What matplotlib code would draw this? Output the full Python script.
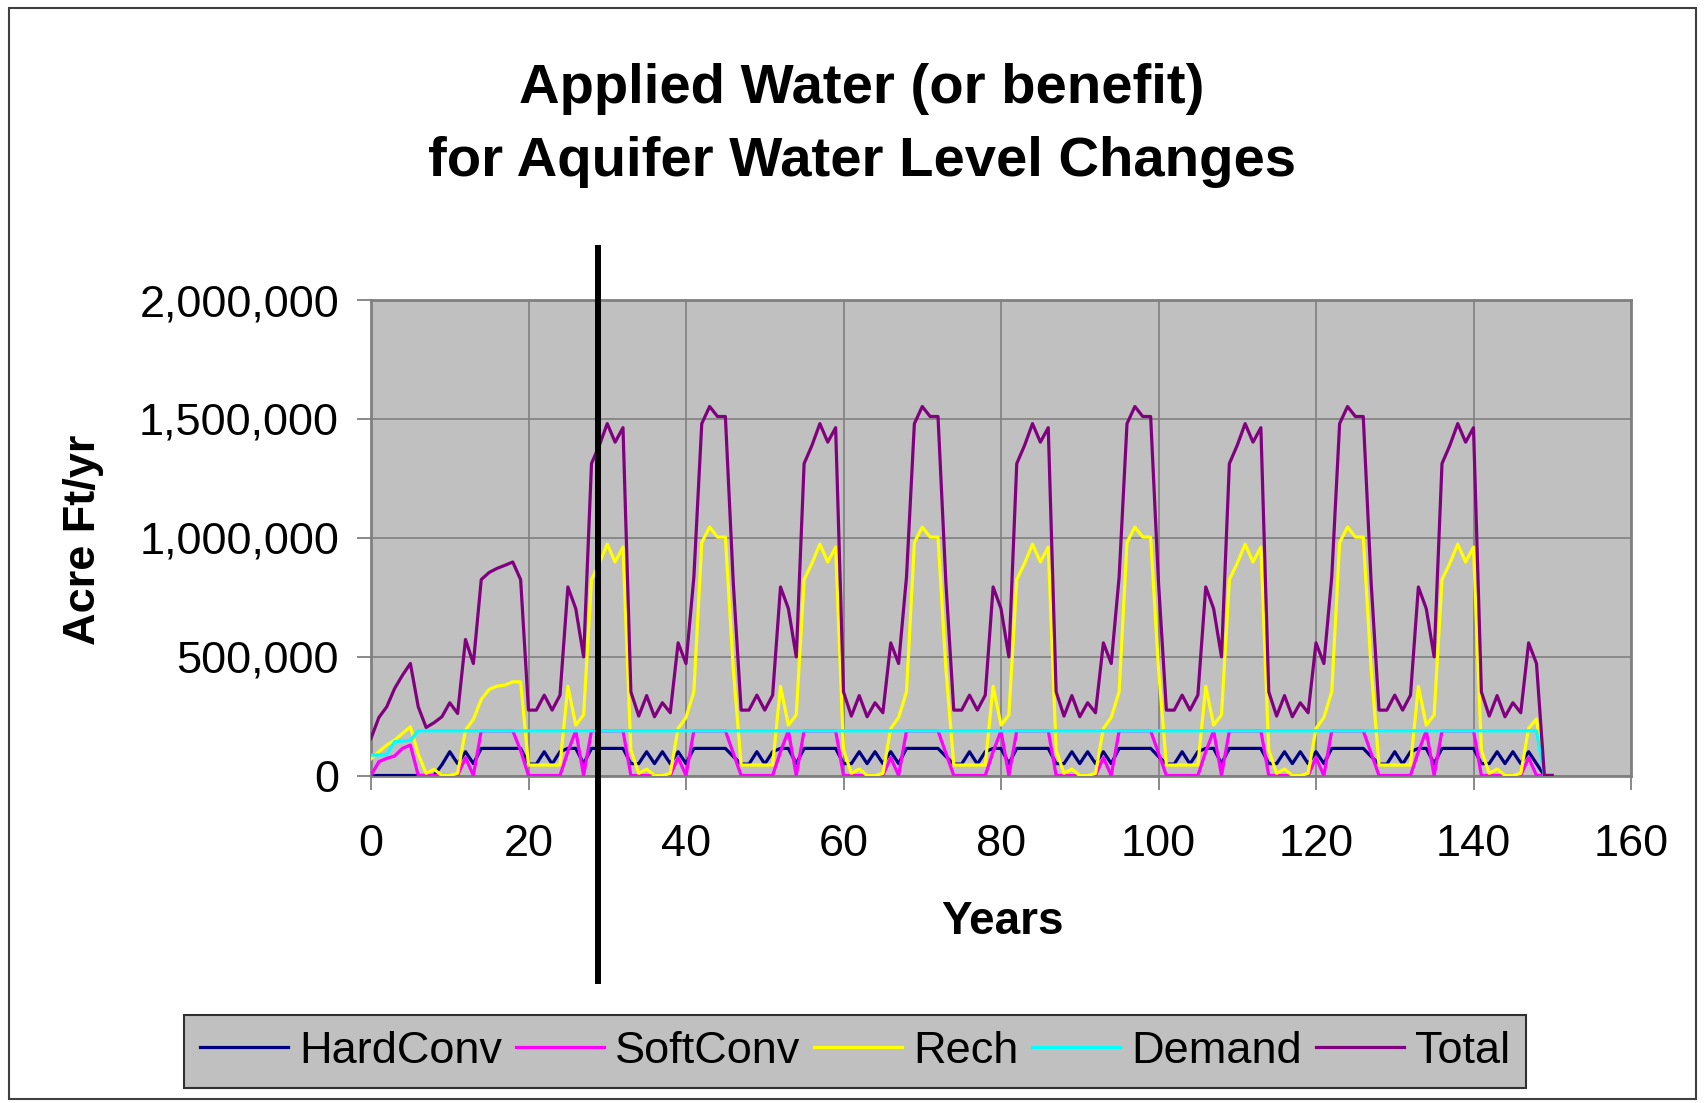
import matplotlib
matplotlib.use("Agg")
import matplotlib.pyplot as plt
from matplotlib.ticker import FuncFormatter
from matplotlib.lines import Line2D
from matplotlib.patches import Rectangle
from matplotlib.transforms import blended_transform_factory

plt.rcParams['font.family'] = ['Liberation Sans', 'DejaVu Sans']

# ---------------- data (thousand acre-ft / yr), years 0..150 ----------------
years = list(range(151))

hardconv_k = [
    0, 0, 0, 0, 0, 0, 0, 0, 0, 45, 100, 50, 100, 50, 114, 114, 114, 114, 114, 114,
    48, 48, 100, 48, 100, 114, 114, 50, 114, 114, 114, 114, 114, 50, 50, 100, 50, 100, 50, 100, 50, 114, 114, 114, 114, 114, 80,
    48, 48, 100, 48, 100, 114, 114, 50, 114, 114, 114, 114, 114, 50, 50, 100, 50, 100, 50, 100, 50, 114, 114, 114, 114, 114, 80,
    48, 48, 100, 48, 100, 114, 114, 50, 114, 114, 114, 114, 114, 50, 50, 100, 50, 100, 50, 100, 50, 114, 114, 114, 114, 114, 80,
    48, 48, 100, 48, 100, 114, 114, 50, 114, 114, 114, 114, 114, 50, 50, 100, 50, 100, 50, 100, 50, 114, 114, 114, 114, 114, 80,
    48, 48, 100, 48, 100, 114, 114, 50, 114, 114, 114, 114, 114, 50, 50, 100, 50, 100, 50, 100, 50,
    0, 0,
]

softconv_k = [
    0, 58, 72, 82, 114, 128, 0, 0, 0, 0, 0, 0, 75, 0, 188, 188, 188, 188, 188, 105,
    0, 0, 0, 0, 0, 100, 188, 0, 188, 188, 188, 188, 188, 0, 0, 0, 0, 0, 0, 75, 0, 188, 188, 188, 188, 188, 94,
    0, 0, 0, 0, 0, 100, 188, 0, 188, 188, 188, 188, 188, 0, 0, 0, 0, 0, 0, 75, 0, 188, 188, 188, 188, 188, 94,
    0, 0, 0, 0, 0, 100, 188, 0, 188, 188, 188, 188, 188, 0, 0, 0, 0, 0, 0, 75, 0, 188, 188, 188, 188, 188, 94,
    0, 0, 0, 0, 0, 100, 188, 0, 188, 188, 188, 188, 188, 0, 0, 0, 0, 0, 0, 75, 0, 188, 188, 188, 188, 188, 94,
    0, 0, 0, 0, 0, 100, 188, 0, 188, 188, 188, 188, 188, 0, 0, 0, 0, 0, 0, 75, 0,
    0, 0,
]

rech_k = [
    70, 100, 128, 149, 177, 205, 90, 9, 26, 0, 0, 9, 191, 236, 320, 362, 376, 380, 394, 394,
    44, 44, 44, 44, 44, 375, 212, 255, 824, 893, 973, 898, 961, 107, 9, 27, 0, 0, 9, 198, 244, 352, 980, 1045, 1003, 1003, 450,
    44, 44, 44, 44, 44, 375, 212, 255, 824, 893, 973, 898, 961, 107, 9, 27, 0, 0, 9, 198, 244, 352, 980, 1045, 1003, 1003, 450,
    44, 44, 44, 44, 44, 375, 212, 255, 824, 893, 973, 898, 961, 107, 9, 27, 0, 0, 9, 198, 244, 352, 980, 1045, 1003, 1003, 450,
    44, 44, 44, 44, 44, 375, 212, 255, 824, 893, 973, 898, 961, 107, 9, 27, 0, 0, 9, 198, 244, 352, 980, 1045, 1003, 1003, 450,
    44, 44, 44, 44, 44, 375, 212, 255, 824, 893, 973, 898, 961, 107, 9, 27, 0, 0, 9, 198, 238,
    0, 0,
]

demand_k = [
    86, 86, 88, 142, 145, 148, 188, 188, 188, 188, 188, 188, 188, 188, 188, 188, 188, 188, 188, 188,
    188, 188, 188, 188, 188, 188, 188, 188, 188, 188, 188, 188, 188, 188, 188, 188, 188, 188, 188, 188, 188, 188, 188, 188, 188, 188, 188,
    188, 188, 188, 188, 188, 188, 188, 188, 188, 188, 188, 188, 188, 188, 188, 188, 188, 188, 188, 188, 188, 188, 188, 188, 188, 188, 188,
    188, 188, 188, 188, 188, 188, 188, 188, 188, 188, 188, 188, 188, 188, 188, 188, 188, 188, 188, 188, 188, 188, 188, 188, 188, 188, 188,
    188, 188, 188, 188, 188, 188, 188, 188, 188, 188, 188, 188, 188, 188, 188, 188, 188, 188, 188, 188, 188, 188, 188, 188, 188, 188, 188,
    188, 188, 188, 188, 188, 188, 188, 188, 188, 188, 188, 188, 188, 188, 188, 188, 188, 188, 188, 188, 188,
    0, 0,
]

total_k = [
    156, 244, 289, 366, 422, 471, 289, 202, 222, 247, 306, 261, 572, 471, 824, 854, 871, 884, 898, 824,
    275, 275, 338, 275, 338, 793, 702, 499, 1312, 1389, 1480, 1402, 1463, 352, 250, 336, 247, 306, 264, 558, 471, 835, 1480, 1552, 1510, 1510, 812,
    275, 275, 338, 275, 338, 793, 702, 499, 1312, 1389, 1480, 1402, 1463, 352, 250, 336, 247, 306, 264, 558, 471, 835, 1480, 1552, 1510, 1510, 812,
    275, 275, 338, 275, 338, 793, 702, 499, 1312, 1389, 1480, 1402, 1463, 352, 250, 336, 247, 306, 264, 558, 471, 835, 1480, 1552, 1510, 1510, 812,
    275, 275, 338, 275, 338, 793, 702, 499, 1312, 1389, 1480, 1402, 1463, 352, 250, 336, 247, 306, 264, 558, 471, 835, 1480, 1552, 1510, 1510, 812,
    275, 275, 338, 275, 338, 793, 702, 499, 1312, 1389, 1480, 1402, 1463, 352, 250, 336, 247, 306, 264, 558, 471,
    0, 0,
]

series_names = ["HardConv", "SoftConv", "Rech", "Demand", "Total"]
series_values = [hardconv_k, softconv_k, rech_k, demand_k, total_k]
series_colors = ["#000080", "#FF00FF", "#FFFF00", "#00FFFF", "#800080"]

x_ticks = [0, 20, 40, 60, 80, 100, 120, 140, 160]
y_ticks = [0, 500000, 1000000, 1500000, 2000000]

title_lines = ["Applied Water (or benefit)", "for Aquifer Water Level Changes"]
x_label = "Years"
y_label = "Acre Ft/yr"
marker_year = 28.85  # position of the black vertical divider line

# ---------------- figure ----------------
W, H = 1705, 1103
fig = plt.figure(figsize=(W / 100, H / 100), dpi=100)

left, right, top, bottom = 371, 1631, 300, 775.5
ax = fig.add_axes([left / W, 1 - bottom / H, (right - left) / W, (bottom - top) / H])
ax.set_facecolor("#C0C0C0")

handles = []
for name, vals, col in zip(series_names, series_values, series_colors):
    (ln,) = ax.plot(years, [v * 1000 for v in vals], color=col, lw=2.3, label=name,
                    solid_joinstyle="round", zorder=3)
    handles.append(ln)

ax.set_xlim(x_ticks[0], x_ticks[-1])
ax.set_ylim(y_ticks[0], y_ticks[-1])
ax.set_xticks(x_ticks)
ax.set_yticks(y_ticks)
ax.yaxis.set_major_formatter(FuncFormatter(lambda v, p: f"{int(round(v)):,}"))
ax.grid(True, color="#808080", lw=1.2)
ax.set_axisbelow(True)
for s in ax.spines.values():
    s.set_color("#808080")
    s.set_linewidth(2)
ax.tick_params(direction="out", length=10, width=1.3, color="#808080", labelsize=32.5, labelcolor="black")
ax.tick_params(axis="y", pad=13)
ax.tick_params(axis="x", pad=25)

# titles / labels
tx = 862 / W
fig.text(tx, 1 - 103 / H, title_lines[0], ha="center", va="baseline", fontsize=40.5, fontweight="bold")
fig.text(tx, 1 - 176 / H, title_lines[1], ha="center", va="baseline", fontsize=40.5, fontweight="bold")
fig.text(1003 / W, 1 - 922 / H, x_label, ha="center", va="center", fontsize=33, fontweight="bold")
fig.text(84 / W, 1 - 540 / H, y_label, ha="center", va="center", rotation=90, fontsize=32.5, fontweight="bold")

# vertical divider line
tr = blended_transform_factory(ax.transData, fig.transFigure)
ax.add_line(Line2D([marker_year, marker_year], [1 - 248 / H, 1 - 981 / H], transform=tr,
                   color="black", lw=4.3, clip_on=False, zorder=5))

# legend
leg = fig.legend(handles=handles, loc="center", bbox_to_anchor=(855 / W, 1 - 1051.5 / H), ncol=5,
                 fontsize=32.5, frameon=True, fancybox=False, framealpha=1, facecolor="#C0C0C0",
                 edgecolor="#303030", handlelength=1.95, handletextpad=0.25, columnspacing=0.3,
                 borderpad=0.35, borderaxespad=0)
leg.get_frame().set_linewidth(1.5)

# outer chart border
fig.patches.append(Rectangle((9 / W, 1 - 1099 / H), (1696 - 9) / W, (1099 - 8) / H, transform=fig.transFigure,
                             fill=False, edgecolor="#404040", lw=1.5))

fig.savefig("out.png", dpi=100)
